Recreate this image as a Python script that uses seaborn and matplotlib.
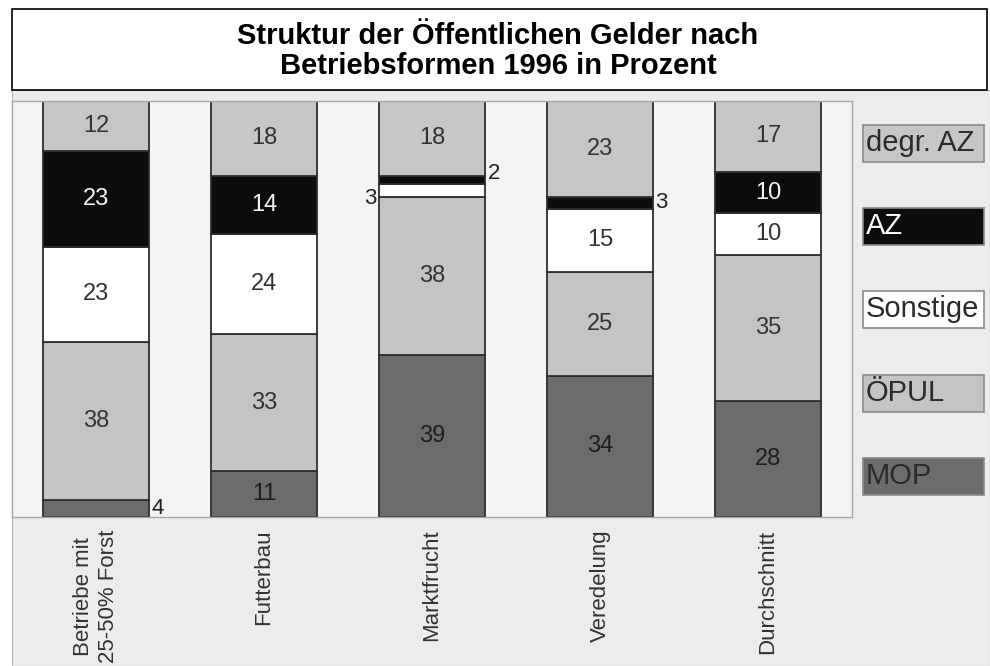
import numpy as np
import pandas as pd
import seaborn as sns
import matplotlib.pyplot as plt
from matplotlib.patches import Rectangle

# Daten: Anteile der Öffentlichen Gelder je Betriebsform (Prozent)
betriebsformen = ['Betriebe mit\n25-50% Forst', 'Futterbau', 'Marktfrucht', 'Veredelung', 'Durchschnitt']
mop = [4, 11, 39, 34, 28]
oepul = [38, 33, 38, 25, 35]
sonstige = [23, 24, 3, 15, 10]
az = [23, 14, 2, 3, 10]
degr_az = [12, 18, 18, 23, 17]

komponenten = ['MOP', 'ÖPUL', 'Sonstige', 'AZ', 'degr. AZ']
farben = ['#6c6c6c', '#c4c4c4', '#ffffff', '#0c0c0c', '#c6c6c6']
textfarben = ['#1e1e1e', '#333333', '#333333', '#f4f4f4', '#333333']

df = pd.DataFrame({'form': betriebsformen, 'MOP': mop, 'ÖPUL': oepul,
                   'Sonstige': sonstige, 'AZ': az, 'degr. AZ': degr_az})

sns.set_style('white')
plt.rcParams['font.family'] = ['Liberation Sans', 'DejaVu Sans']

W, H = 990, 666
fig = plt.figure(figsize=(W / 100, H / 100), dpi=100)

# Hintergrund des gescannten Bereichs und Titelbox
fig.patches.append(Rectangle((12 / W, 0), (W - 12) / W, (H - 90) / H, transform=fig.transFigure,
                             facecolor='#ececec', edgecolor='#b5b5b5', lw=0.8, zorder=-5))
fig.patches.append(Rectangle((12 / W, 1 - 90 / H), 975 / W, 81 / H, transform=fig.transFigure,
                             facecolor='white', edgecolor='black', lw=1.2, zorder=-4))
fig.text(0.503, 1 - 51 / H, 'Struktur der Öffentlichen Gelder nach\nBetriebsformen 1996 in Prozent',
         ha='center', va='center', fontsize=21, fontweight='bold', color='black', linespacing=1.1)

ax = fig.add_axes([12 / W, 1 - 517 / H, 840 / W, 416 / H])
ax.set_zorder(2)
ax.set_facecolor('#f3f3f3')

unten = np.zeros(len(df))
for k, (komp, farbe, tf) in enumerate(zip(komponenten, farben, textfarben)):
    sns.barplot(data=df, x='form', y=komp, bottom=unten, color=farbe, saturation=1,
                width=0.63, errorbar=None, edgecolor='#2e2e2e', linewidth=1.3, ax=ax)
    werte = df[komp].to_numpy()
    labels = [str(v) if v >= 5 else '' for v in werte]
    ax.bar_label(ax.containers[-1], labels=labels, label_type='center',
                 fontsize=17, color=tf)
    # kleine Anteile neben dem Balken beschriften
    for i, v in enumerate(werte):
        if v < 5:
            mitte = unten[i] + v / 2
            if komp == 'Sonstige':
                ax.text(i - 0.33, mitte - 2, str(v), ha='right', va='center', fontsize=16, color='#222222')
            else:
                ax.text(i + 0.33, mitte + (1.5 if komp == 'AZ' and i == 2 else 0), str(v),
                        ha='left', va='center', fontsize=16, color='#222222')
    unten += werte

ax.set_xlim(-0.5, 4.5)
ax.set_ylim(0, 100)
ax.set_yticks([])
ax.set_xlabel('')
ax.set_ylabel('')
ax.tick_params(axis='x', length=0, pad=9, labelsize=16, labelcolor='#333333')
for t in ax.get_xticklabels():
    t.set_rotation(90)
    t.set_ha('center')
    t.set_va('top')
for s in ax.spines.values():
    s.set_color('#a8a8a8')
    s.set_linewidth(1.0)

# Legende als Kästchen mit Text rechts vom Diagramm
legende_y = [125, 208, 291, 375, 458]
for komp, farbe, tf, y0 in zip(komponenten[::-1], farben[::-1], textfarben[::-1], legende_y):
    fig.patches.append(Rectangle((863 / W, 1 - (y0 + 37) / H), 121 / W, 37 / H, transform=fig.transFigure,
                                 facecolor=farbe, edgecolor='#8a8a8a', lw=1.2, zorder=2))
    fig.text(866 / W, 1 - (y0 + 18) / H, komp, ha='left', va='center', fontsize=21,
             color='#ffffff' if komp == 'AZ' else '#2a2a2a', zorder=3)

fig.savefig('out.png', dpi=100)
